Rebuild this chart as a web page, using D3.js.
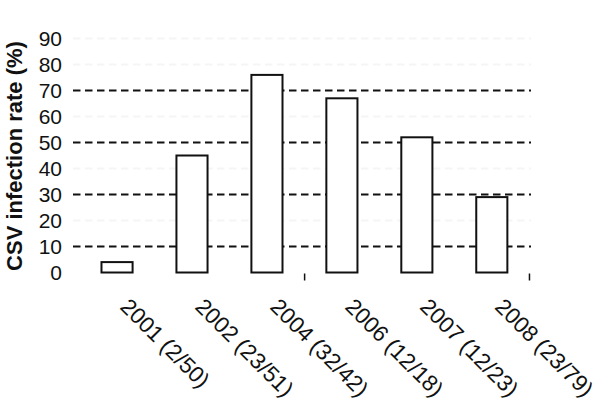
<!DOCTYPE html>
<html>
<head>
<meta charset="utf-8">
<script src="https://cdn.jsdelivr.net/npm/d3@7"></script>
<style>
  body { margin: 0; background: #fff; }
  svg text { font-family: "Liberation Sans", Arial, sans-serif; fill: #111; }
</style>
</head>
<body>
<div id="chart"></div>
<script>
var years = ["2001 (2/50)", "2002 (23/51)", "2004 (32/42)", "2006 (12/18)", "2007 (12/23)", "2008 (23/79)"];
var rates = [4, 45, 76, 67, 52, 29];
var yTicks = [0, 10, 20, 30, 40, 50, 60, 70, 80, 90];
var darkGrid = [10, 30, 50, 70];   // the others are nearly invisible in the picture
var tickAt = [3, 6];               // only these band edges show a tick

var width = 600, height = 404,
    plotLeft = 79.75, plotRight = 529.1, plotTop = 38.5, plotBottom = 272.5;

var svg = d3.select("#chart").append("svg")
    .attr("width", width).attr("height", height);

var x = d3.scaleBand().domain(years).range([plotLeft, plotRight]).paddingInner(0.585).paddingOuter(0.29);
var y = d3.scaleLinear().domain([0, 90]).range([plotBottom, plotTop]);
var step = x.step();

// grid lines
svg.append("g").selectAll("line")
    .data(yTicks.filter(function(d) { return d > 0; }))
    .enter().append("line")
    .attr("x1", 73).attr("x2", 531)
    .attr("y1", function(d) { return y(d); })
    .attr("y2", function(d) { return y(d); })
    .attr("stroke", function(d) { return darkGrid.indexOf(d) >= 0 ? "#111" : "#f5f5f5"; })
    .attr("stroke-width", 2)
    .attr("stroke-dasharray", "7.5,4.5");

// y labels
svg.append("g").selectAll("text")
    .data(yTicks)
    .enter().append("text")
    .attr("x", 62)
    .attr("y", function(d) { return y(d); })
    .attr("dy", "0.36em")
    .attr("text-anchor", "end")
    .style("font-size", "21px")
    .text(function(d) { return d; });

// y title
svg.append("text")
    .attr("transform", "translate(22," + ((plotTop + plotBottom) / 2 + 0.5) + ") rotate(-90)")
    .attr("text-anchor", "middle")
    .style("font-size", "22px")
    .style("font-weight", "bold")
    .text("CSV infection rate (%)");

// bars
svg.append("g").selectAll("rect")
    .data(rates)
    .enter().append("rect")
    .attr("x", function(d, i) { return x(years[i]); })
    .attr("y", function(d) { return y(d); })
    .attr("width", x.bandwidth())
    .attr("height", function(d) { return y(0) - y(d); })
    .attr("fill", "#fff")
    .attr("stroke", "#111")
    .attr("stroke-width", 2);

// ticks under the axis
svg.append("g").selectAll("line")
    .data(tickAt)
    .enter().append("line")
    .attr("x1", function(d) { return plotLeft + d * step; })
    .attr("x2", function(d) { return plotLeft + d * step; })
    .attr("y1", plotBottom + 1).attr("y2", plotBottom + 8)
    .attr("stroke", "#111").attr("stroke-width", 1.5);

// x labels
svg.append("g").selectAll("text")
    .data(years)
    .enter().append("text")
    .attr("transform", function(d) {
        return "translate(" + (x(d) + x.bandwidth() / 2 + 2) + "," + 308 + ") rotate(45)";
    })
    .style("font-size", "22.5px")
    .text(function(d) { return d; });
</script>
</body>
</html>
